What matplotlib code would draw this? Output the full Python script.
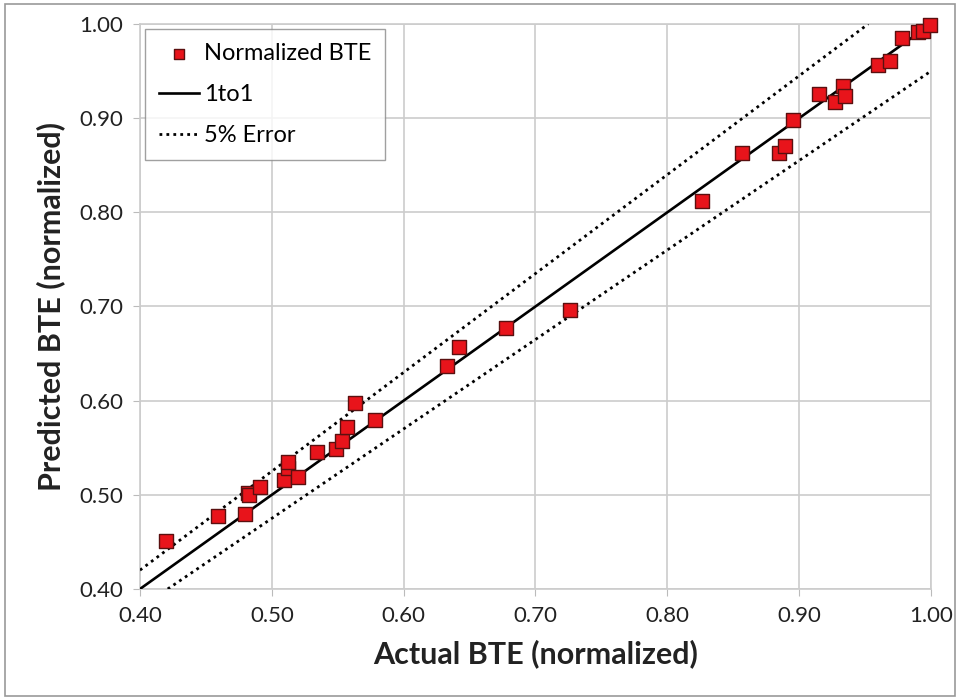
import matplotlib
matplotlib.use("Agg")
import matplotlib.pyplot as plt
import numpy as np
from matplotlib.patches import Rectangle

# normalized brake thermal efficiency: measured vs. model prediction
actual = [0.420, 0.459, 0.480, 0.482, 0.483, 0.491, 0.509, 0.512, 0.512, 0.520,
          0.534, 0.549, 0.553, 0.557, 0.563, 0.578, 0.633, 0.642, 0.678, 0.726,
          0.826, 0.857, 0.885, 0.889, 0.895, 0.915, 0.927, 0.933, 0.935, 0.960,
          0.969, 0.978, 0.990, 0.994, 0.999]
predicted = [0.451, 0.478, 0.480, 0.502, 0.500, 0.508, 0.516, 0.529, 0.535, 0.519,
             0.545, 0.549, 0.557, 0.572, 0.598, 0.579, 0.637, 0.657, 0.677, 0.696,
             0.812, 0.863, 0.863, 0.870, 0.898, 0.926, 0.917, 0.934, 0.923, 0.956,
             0.961, 0.985, 0.991, 0.993, 0.999]
ref_line = [0.40, 1.00]
err_pct = 0.05
ticks = [0.40, 0.50, 0.60, 0.70, 0.80, 0.90, 1.00]

plt.rcParams['font.family'] = ['Lato', 'DejaVu Sans']

fig = plt.figure(figsize=(9.62, 6.99), dpi=100)
ax = fig.add_axes([0.1455, 0.1574, 0.8223, 0.8083])

ax.scatter(actual, predicted, marker='s', s=110, c='#e8141b',
           edgecolors='#5a1010', linewidths=1.0, zorder=4, clip_on=False,
           label='Normalized BTE')

x = np.array(ref_line)
ax.plot(x, x, color='black', lw=1.9, zorder=3, label='1to1')
hi = np.array([0.40, 1.0 / (1 + err_pct)])
ax.plot(hi, hi * (1 + err_pct), color='black', lw=2.0, ls=(0, (1, 1.5)), zorder=3,
        label='5% Error')
lo = np.array([0.40 / (1 - err_pct), 1.00])
ax.plot(lo, lo * (1 - err_pct), color='black', lw=2.0, ls=(0, (1, 1.5)), zorder=3)

ax.set_xlim(0.40, 1.00)
ax.set_ylim(0.40, 1.00)
ax.set_xticks(ticks)
ax.set_yticks(ticks)
ax.set_xticklabels(['%.2f' % t for t in ticks])
ax.set_yticklabels(['%.2f' % t for t in ticks])
ax.grid(True, color='#cccccc', lw=1.2)
ax.set_axisbelow(True)
for s in ax.spines.values():
    s.set_color('#cccccc')
    s.set_linewidth(1.2)
ax.tick_params(axis='both', labelsize=16, colors='#222222', length=5,
               color='#bbbbbb', pad=7)

ax.set_xlabel('Actual BTE (normalized)', fontsize=22, fontweight='bold',
              color='#222222', labelpad=10)
ax.set_ylabel('Predicted BTE (normalized)', fontsize=22, fontweight='bold',
              color='#222222', labelpad=10)

leg = ax.legend(loc='upper left', fontsize=17, frameon=True, fancybox=False,
                borderpad=0.6, labelspacing=0.85, handlelength=1.7,
                handletextpad=0.2, borderaxespad=0.2, markerscale=0.75)
leg.get_frame().set_edgecolor('#888888')
leg.get_frame().set_linewidth(1.0)

# thin outer frame around the whole figure
fig.patches.append(Rectangle((0.005, 0.004), 0.988, 0.99, transform=fig.transFigure,
                             fill=False, edgecolor='#999999', lw=1.2))

fig.savefig('out.png', dpi=100)
